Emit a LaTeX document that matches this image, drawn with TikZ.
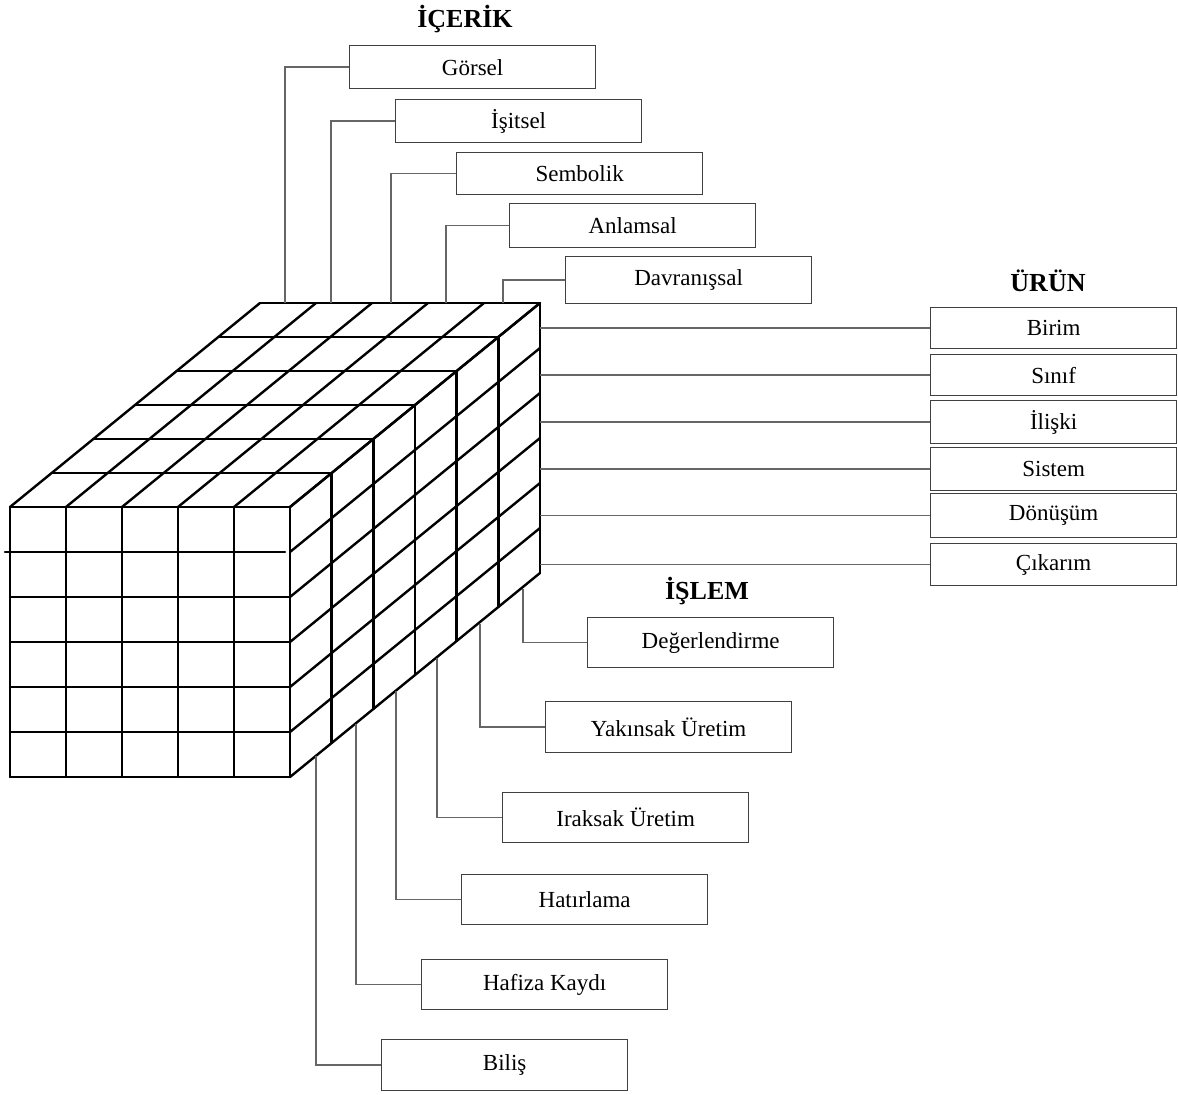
\documentclass[tikz,border=0pt]{standalone}
\usepackage{fontspec}
\setmainfont{Liberation Serif}
\begin{document}
\begin{tikzpicture}[x=1pt,y=-1pt,
  grid/.style={line width=2.4pt,line cap=round,line join=round},
  box/.style={draw=black!75,line width=1.3pt,minimum width=246pt,minimum height=43pt,
    inner sep=0pt,anchor=north west,font=\fontsize{23}{26}\selectfont},
  lead/.style={draw=black!60,line width=1.4pt},
  head/.style={font=\fontsize{26}{29}\selectfont\bfseries}]
\useasboundingbox (0,0) rectangle (1178,1095);

% ---- the 5 x 6 x 6 block ----
% front face
\foreach \i in {0,...,5} \draw[grid] (10+56*\i,507) -- (10+56*\i,777);
\foreach \j in {0,2,3,4,5,6} \draw[grid] (10,507+45*\j) -- (290,507+45*\j);
\draw[grid] (5,552) -- (285,552);
% top face
\foreach \k in {1,...,6} \draw[grid] (10+41.67*\k,507-34*\k) -- (290+41.67*\k,507-34*\k);
\foreach \i in {0,...,5} \draw[grid] (10+56*\i,507) -- (260+56*\i,303);
% right face
\foreach \k in {1,...,6} \draw[grid] (290+41.67*\k,507-34*\k) -- (290+41.67*\k,777-34*\k);
\foreach \j in {0,...,6} \draw[grid] (290,507+45*\j) -- (540,303+45*\j);

% ---- headings ----
\node[head] (icerik) at (465,19) {İÇERİK};
\node[head] (urun) at (1048,281) {ÜRÜN};
\node[head] (islem) at (707,591) {İŞLEM};

% ---- content boxes ----
\node[box] (gorsel) at (349,45) {Görsel};
\node[box] (isitsel) at (395,99) {İşitsel};
\node[box,minimum height=42pt] (sembolik) at (456,152) {Sembolik};
\node[box,minimum height=44pt] (anlamsal) at (509,203) {Anlamsal};
\node[box,minimum height=47pt] (davranissal) at (565,256) {Davranışsal};

\coordinate (t1) at (285,303);
\coordinate (t2) at (331,303);
\coordinate (t3) at (391,303);
\coordinate (t4) at (446,303);
\coordinate (t5) at (503,303);
\draw[lead] (gorsel.west) -| (t1);
\draw[lead] (isitsel.west) -| (t2);
\draw[lead] (sembolik.west) -| (t3);
\draw[lead] (anlamsal.west) -| (t4);
\draw[lead] (davranissal.west) -| (t5);

% ---- product boxes ----
\node[box,minimum height=41pt] (birim) at (930,307) {Birim};
\node[box,minimum height=41pt] (sinif) at (930,354) {Sınıf};
\node[box] (iliski) at (930,400) {İlişki};
\node[box] (sistem) at (930,447) {Sistem};
\node[box,minimum height=44pt] (donusum) at (930,493) {Dönüşüm};
\node[box,minimum height=42pt] (cikarim) at (930,543) {Çıkarım};

\foreach \n in {birim,sinif,iliski,sistem,donusum,cikarim}
  \draw[lead] (540,0 |- \n.west) coordinate (r-\n) -- (\n.west);

% ---- operation boxes ----
\node[box,minimum height=50pt] (degerlendirme) at (587,617) {Değerlendirme};
\node[box,minimum height=51pt] (yakinsak) at (545,701) {Yakınsak Üretim};
\node[box,minimum height=50pt] (iraksak) at (502,792) {Iraksak Üretim};
\node[box,minimum height=50pt] (hatirlama) at (461,874) {Hatırlama};
\node[box,minimum height=50pt] (hafiza) at (421,959) {Hafiza Kaydı};
\node[box,minimum height=51pt] (bilis) at (381,1039) {Biliş};

\coordinate (b1) at (523,589);
\coordinate (b2) at (480,624);
\coordinate (b3) at (437,658);
\coordinate (b4) at (396,691);
\coordinate (b5) at (356,724);
\coordinate (b6) at (316,756);
\draw[lead] (degerlendirme.west) -| (b1);
\draw[lead] (yakinsak.west) -| (b2);
\draw[lead] (iraksak.west) -| (b3);
\draw[lead] (hatirlama.west) -| (b4);
\draw[lead] (hafiza.west) -| (b5);
\draw[lead] (bilis.west) -| (b6);
\end{tikzpicture}
\end{document}
